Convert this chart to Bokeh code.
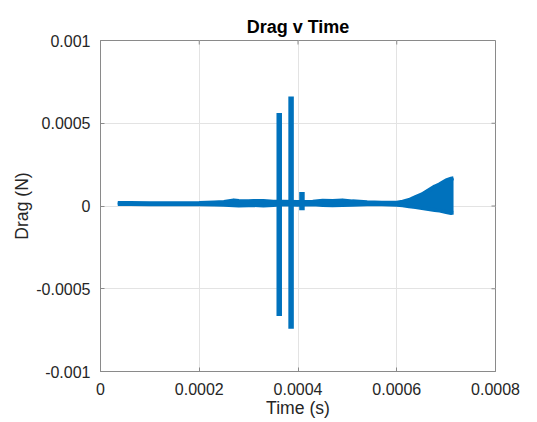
from bokeh.plotting import figure
from bokeh.models import FixedTicker, Range1d
from bokeh.embed import file_html
from bokeh.resources import INLINE

# ---- data ----
time_s = [0.000035, 0.00006, 0.0001, 0.00015, 0.0002, 0.00023, 0.00025, 0.00027,
          0.00028, 0.0003, 0.00031, 0.00033, 0.00035, 0.00037, 0.0004, 0.00043,
          0.00045, 0.00047, 0.00049, 0.00051, 0.00054, 0.00057, 0.0006, 0.000612,
          0.000625, 0.000638, 0.000651, 0.000664, 0.000677, 0.000687, 0.0007,
          0.00071, 0.000715]
drag_upper = [0.000018, 0.000018, 0.000016, 0.000017, 0.000018, 0.000021, 0.000024,
              0.000034, 0.000030, 0.000028, 0.000030, 0.000030, 0.000026, 0.000026,
              0.000024, 0.000026, 0.000032, 0.000030, 0.000034, 0.000028, 0.000022,
              0.000020, 0.000020, 0.000026, 0.000036, 0.000054, 0.000070, 0.000094,
              0.000118, 0.000131, 0.000155, 0.000165, 0.000168]
drag_lower = [0.000012, 0.000012, 0.000010, 0.000010, 0.000010, 0.000009, 0.000008,
              0.000004, 0.000003, 0.000004, 0.000006, 0.000003, 0.000006, 0.000010,
              0.000008, 0.000010, 0.000006, 0.000004, 0.000006, 0.000008, 0.000010,
              0.000010, 0.000008, 0.000004, -0.000002, -0.000006, -0.000012,
              -0.000018, -0.000024, -0.000028, -0.000036, -0.000042, -0.000040]

spike_time = [0.000362, 0.000386, 0.000408]
spike_upper = [0.000562, 0.000662, 0.000084]
spike_lower = [-0.000665, -0.000741, -0.000026]

x_ticks = [0, 0.0002, 0.0004, 0.0006, 0.0008]
x_tick_labels = ["0", "0.0002", "0.0004", "0.0006", "0.0008"]
y_ticks = [-0.001, -0.0005, 0, 0.0005, 0.001]
y_tick_labels = ["-0.001", "-0.0005", "0", "0.0005", "0.001"]

X_MIN, X_MAX = 0, 0.0008
Y_MIN, Y_MAX = -0.001, 0.001
FRAME_W, FRAME_H = 395, 331
TICK_PX = 4

LINE = "#0072BD"
AX = "#8a8a8a"
TXT = "#262626"
FONT = "Liberation Sans"

p = figure(frame_width=FRAME_W, frame_height=FRAME_H,
           x_range=Range1d(X_MIN, X_MAX), y_range=Range1d(Y_MIN, Y_MAX),
           output_backend="svg", toolbar_location=None,
           min_border_left=100, min_border_right=42,
           min_border_top=40, min_border_bottom=51,
           title="Drag v Time")
p.background_fill_color = "white"
p.border_fill_color = "white"
p.outline_line_color = AX
p.outline_line_width = 1

p.title.align = "center"
p.title.text_font = FONT
p.title.text_font_size = "18px"
p.title.text_font_style = "bold"
p.title.text_color = "black"
p.title.standoff = 8

# data band
p.varea(x=time_s, y1=drag_lower, y2=drag_upper, fill_color=LINE)
p.line(time_s, drag_upper, line_color=LINE, line_width=4, line_join="round")
p.line(time_s, drag_lower, line_color=LINE, line_width=4, line_join="round")
p.segment(x0=spike_time, y0=spike_lower, x1=spike_time, y1=spike_upper,
          line_color=LINE, line_width=5.5, line_cap="butt")

# box ticks on the top and right edges (MATLAB "box on")
dx = (X_MAX - X_MIN) / FRAME_W * TICK_PX
dy = (Y_MAX - Y_MIN) / FRAME_H * TICK_PX
p.segment(x0=x_ticks, y0=[Y_MAX] * len(x_ticks), x1=x_ticks,
          y1=[Y_MAX - dy] * len(x_ticks), line_color=AX, line_width=1)
p.segment(x0=[X_MAX] * len(y_ticks), y0=y_ticks, x1=[X_MAX - dx] * len(y_ticks),
          y1=y_ticks, line_color=AX, line_width=1)

xt = FixedTicker(ticks=x_ticks, minor_ticks=[])
yt = FixedTicker(ticks=y_ticks, minor_ticks=[])

for ax in p.xaxis:
    ax.ticker = xt
    ax.major_label_overrides = dict(zip(x_ticks, x_tick_labels))
    ax.axis_label = "Time (s)"
for ax in p.yaxis:
    ax.ticker = yt
    ax.major_label_overrides = dict(zip(y_ticks, y_tick_labels))
    ax.axis_label = "Drag (N)"

for ax in list(p.xaxis) + list(p.yaxis):
    ax.axis_line_color = AX
    ax.major_tick_line_color = AX
    ax.major_tick_in = TICK_PX
    ax.major_tick_out = 0
    ax.minor_tick_line_color = None
    ax.major_label_text_font = FONT
    ax.major_label_text_font_size = "16px"
    ax.major_label_text_color = TXT
    ax.axis_label_text_font = FONT
    ax.axis_label_text_font_size = "17.6px"
    ax.axis_label_text_font_style = "normal"
    ax.axis_label_text_color = TXT

p.xaxis.major_label_standoff = 11
p.xaxis.axis_label_standoff = 0
p.yaxis.major_label_standoff = 10
p.yaxis.axis_label_standoff = 1

p.xgrid.grid_line_color = "#e3e3e3"
p.ygrid.grid_line_color = "#e3e3e3"
p.xgrid.ticker = xt
p.ygrid.ticker = yt

open("out.html", "w").write(file_html(p, INLINE))
